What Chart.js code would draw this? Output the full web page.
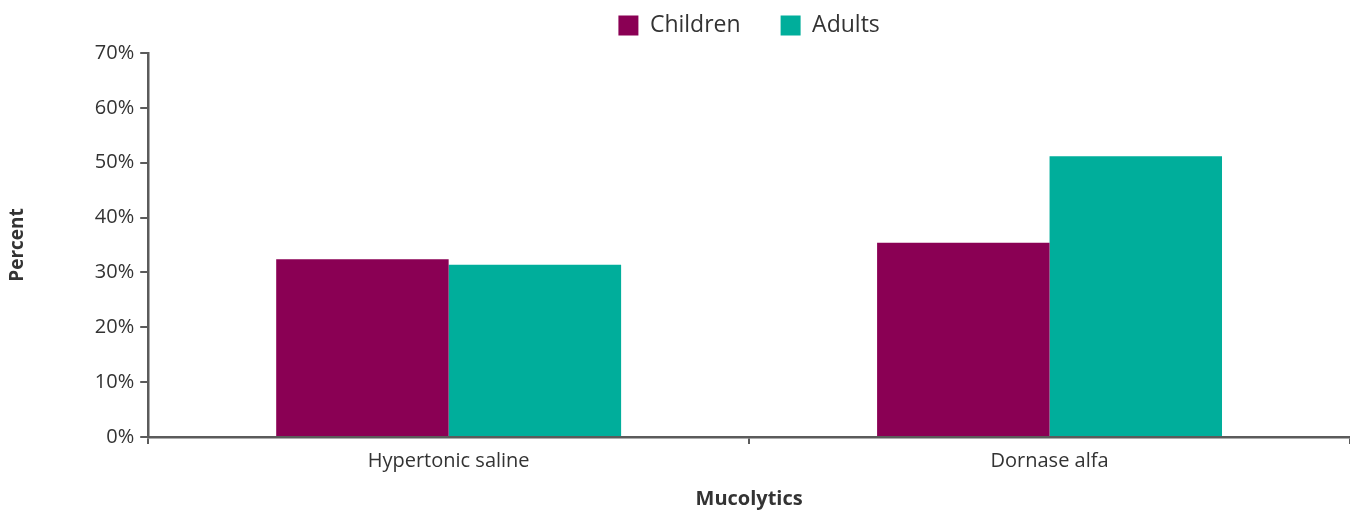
<!DOCTYPE html>
<html>
<head>
<meta charset="utf-8">
<script src="https://cdn.jsdelivr.net/npm/chart.js@4.4.1/dist/chart.umd.min.js"></script>
<style>
  html, body { margin: 0; padding: 0; background: #fff; }
  #wrap { width: 1350px; height: 511px; position: relative; }
</style>
</head>
<body>
<div id="wrap"><canvas id="mucoChart"></canvas></div>
<script>
// Werte
const categories = ['Hypertonic saline', 'Dornase alfa'];
const childrenValues = [32.4, 35.4];
const adultsValues = [31.4, 51.2];
const seriesNames = ['Children', 'Adults'];

const AXIS_COLOR = '#5b5b5b';
const TEXT_COLOR = '#333333';

Chart.defaults.font.family = '"Open Sans", "Noto Sans", sans-serif';
Chart.defaults.color = TEXT_COLOR;

// Legende etwas nach oben schieben, ohne die Zeichenfläche zu verändern
const legendShift = {
    id: 'legendShift',
    afterLayout(c) {
        if (!c.legend) return;
        c.legend.top -= 6;
        c.legend.bottom -= 6;
    }
};

const ctx = document.getElementById('mucoChart').getContext('2d');
const chart = new Chart(ctx, {
    type: 'bar',
    data: {
        labels: categories,
        datasets: [
            { label: seriesNames[0], data: childrenValues, backgroundColor: '#8a0054', borderWidth: 0 },
            { label: seriesNames[1], data: adultsValues, backgroundColor: '#00ae9b', borderWidth: 0 }
        ]
    },
    options: {
        responsive: true,
        maintainAspectRatio: false,
        animation: false,
        layout: { padding: { left: 6, right: 0, top: -20, bottom: 0 } },
        datasets: { bar: { categoryPercentage: 0.574, barPercentage: 1.0 } },
        scales: {
            x: {
                grid: { drawOnChartArea: false, drawTicks: true, tickLength: 7, color: AXIS_COLOR, lineWidth: 2, offset: true },
                border: { color: AXIS_COLOR, width: 2.5 },
                ticks: { font: { size: 20 }, color: TEXT_COLOR, padding: 5 },
                title: { display: true, text: 'Mucolytics', font: { size: 20, weight: 'bold' }, color: TEXT_COLOR, padding: { top: 9, bottom: 0 } }
            },
            y: {
                min: 0, max: 70,
                grid: { drawOnChartArea: false, drawTicks: true, tickLength: 8, color: AXIS_COLOR, lineWidth: 2 },
                border: { color: AXIS_COLOR, width: 2.5 },
                ticks: { stepSize: 10, font: { size: 20 }, color: TEXT_COLOR, padding: 6, callback: v => v + '%' },
                title: { display: true, text: 'Percent', font: { size: 19, weight: 'bold' }, color: TEXT_COLOR, padding: { top: 0, bottom: 60 } }
            }
        },
        plugins: {
            legend: {
                position: 'top',
                fullSize: false,
                labels: { boxWidth: 20, boxHeight: 20, font: { size: 23 }, color: TEXT_COLOR, padding: 40 }
            },
            tooltip: { enabled: false }
        }
    },
    plugins: [legendShift]
});
</script>
</body>
</html>
